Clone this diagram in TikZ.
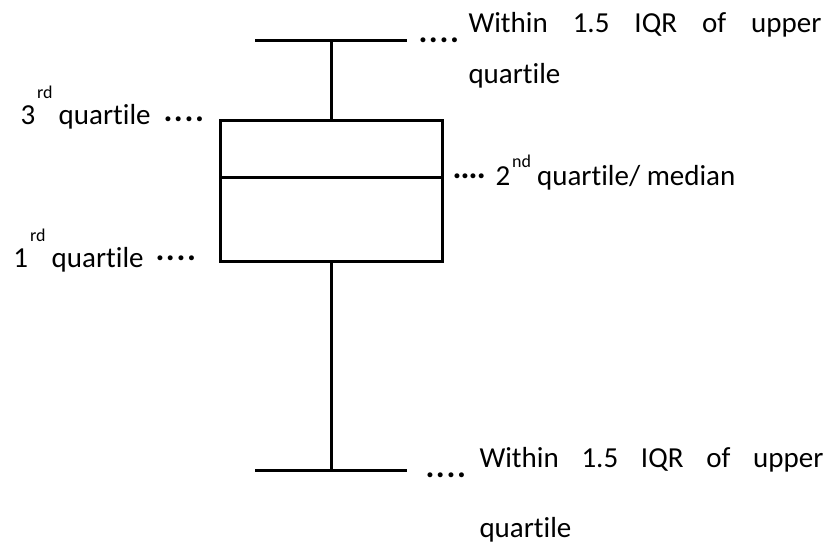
\documentclass[tikz,border=0pt]{standalone}
\usepackage{fontspec}
\setmainfont{Carlito}[Ligatures=CommonOff]
\usepackage{tikz}
\newcommand{\ordsup}[2][13.5pt]{\kern1.5pt\raisebox{#1}{\fontsize{13.5}{15}\selectfont #2}\kern4.5pt}
\newcommand{\leaderdots}[1][1.2pt]{\textbf{.\kern#1.\kern#1.\kern#1.}}

\begin{document}
\begin{tikzpicture}[x=0.75pt,y=-0.75pt,line width=2.25pt,
  lbl/.style={anchor=base west,inner sep=0pt,font=\fontsize{21.75}{26}\selectfont},
  dots/.style={anchor=base west,inner sep=0pt,font=\fontsize{25}{30}\selectfont}]
\useasboundingbox (0,0) rectangle (838,544);
% box with median
\node[draw=black,rectangle,anchor=north west,inner sep=0pt,minimum width=166.5pt,minimum height=105.75pt] (box) at (219,119) {};
\coordinate (med) at (0,177);
\draw (box.west |- med) -- (box.east |- med);
% whiskers
\coordinate (uwl) at (255,40);
\coordinate (uwr) at (407,40);
\coordinate (lwl) at (255,470);
\coordinate (lwr) at (407,470);
\draw (uwl) -- (uwr);
\draw (lwl) -- (lwr);
\draw (box.north) -- (box.north |- uwl);
\draw (box.south) -- (box.south |- lwl);
% labels
\node[lbl] (up1) at (467,32) {\makebox[264.75pt][s]{Within 1.5 IQR of upper}};
\node[lbl] (up2) at (467,83) {quartile};
\node[lbl] (lo1) at (478,467) {\makebox[258pt][s]{Within 1.5 IQR of upper}};
\node[lbl] (lo2) at (478,537) {quartile};
\node[lbl] (q3) at (19,124) {3\ordsup[19pt]{rd}quartile};
\node[lbl] (q1) at (12,267) {1\ordsup[19pt]{rd}quartile};
\node[lbl] (q2) at (494,185) {2\ordsup{nd}quartile/ median};
\node[dots] (d1) at (417,42) {\leaderdots};
\node[dots] (d2) at (424,477) {\leaderdots};
\node[dots] (d3) at (162,121) {\leaderdots};
\node[dots] (d4) at (154,260) {\leaderdots};
\node[dots] (d5) at (451,178) {\leaderdots[-0.6pt]};
\end{tikzpicture}
\end{document}
